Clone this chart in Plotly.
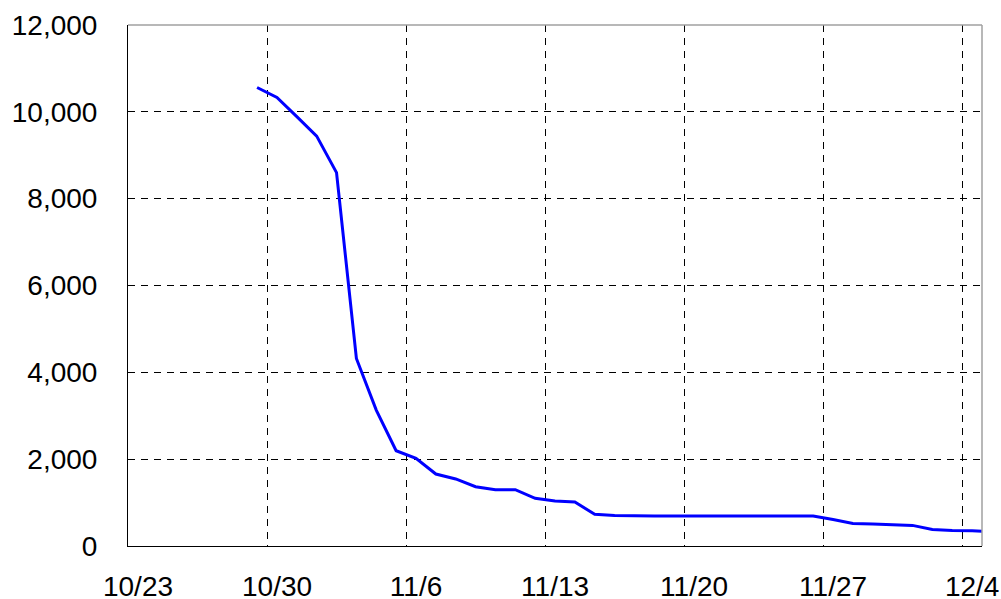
import plotly.graph_objects as go

dates = ["2023-10-29 12:00", "2023-10-30 12:00", "2023-10-31 12:00", "2023-11-01 12:00",
         "2023-11-02 12:00", "2023-11-03 12:00", "2023-11-04 12:00", "2023-11-05 12:00",
         "2023-11-06 12:00", "2023-11-07 12:00", "2023-11-08 12:00", "2023-11-09 12:00",
         "2023-11-10 12:00", "2023-11-11 12:00", "2023-11-12 12:00", "2023-11-13 12:00",
         "2023-11-14 12:00", "2023-11-15 12:00", "2023-11-16 12:00", "2023-11-17 12:00",
         "2023-11-18 12:00", "2023-11-19 12:00", "2023-11-20 12:00", "2023-11-21 12:00",
         "2023-11-22 12:00", "2023-11-23 12:00", "2023-11-24 12:00", "2023-11-25 12:00",
         "2023-11-26 12:00", "2023-11-27 12:00", "2023-11-28 12:00", "2023-11-29 12:00",
         "2023-11-30 12:00", "2023-12-01 12:00", "2023-12-02 12:00", "2023-12-03 12:00",
         "2023-12-04 12:00", "2023-12-05 12:00"]
values = [10560, 10330, 9890, 9440,
          8600, 4320, 3130, 2195,
          2020, 1658, 1545, 1366,
          1297, 1297, 1098, 1036,
          1013, 730, 700, 691,
          691, 691, 691, 691,
          691, 691, 691, 691,
          691, 610, 520, 505,
          490, 475, 380, 355,
          350, 330]

x_range = ["2023-10-23", "2023-12-05"]
x_tick0 = "2023-10-23"
y_range = [0, 12000]

font_family = "Liberation Sans, Arial, sans-serif"

fig = go.Figure()
fig.add_trace(go.Scatter(x=dates, y=values, mode="lines",
                         line=dict(color="#0000FF", width=3),
                         hoverinfo="skip", showlegend=False))

fig.update_layout(
    width=1001, height=599,
    margin=dict(l=128, r=19, t=25, b=53, autoexpand=False),
    paper_bgcolor="white", plot_bgcolor="white",
    font=dict(family=font_family, size=28, color="black"),
    showlegend=False,
)

fig.update_xaxes(
    type="date", range=x_range, tick0=x_tick0, dtick=7 * 24 * 3600 * 1000,
    tickformat="%-m/%-d",
    showgrid=True, gridcolor="black", gridwidth=1, griddash="7px,6px",
    showline=True, linecolor="black", linewidth=1,
    ticks="", ticklabelstandoff=15, ticklabelshift=10,
    zeroline=False, fixedrange=True, automargin=False,
)
fig.update_yaxes(
    range=y_range, dtick=2000, tickformat=",d",
    showgrid=True, gridcolor="black", gridwidth=1, griddash="7px,6px",
    showline=True, linecolor="black", linewidth=1,
    ticks="", ticklabelstandoff=24,
    zeroline=False, fixedrange=True, automargin=False,
)

# grey frame top and right
fig.add_shape(type="line", xref="paper", yref="paper", x0=0, x1=1, y0=1, y1=1,
              line=dict(color="#a0a0a0", width=1.5), layer="above")
fig.add_shape(type="line", xref="paper", yref="paper", x0=1, x1=1, y0=0, y1=1,
              line=dict(color="#a0a0a0", width=1.5), layer="above")

fig.write_html("out.html", config={"displayModeBar": False},
               post_script="document.body.style.margin='0';document.body.style.overflow='hidden';")
